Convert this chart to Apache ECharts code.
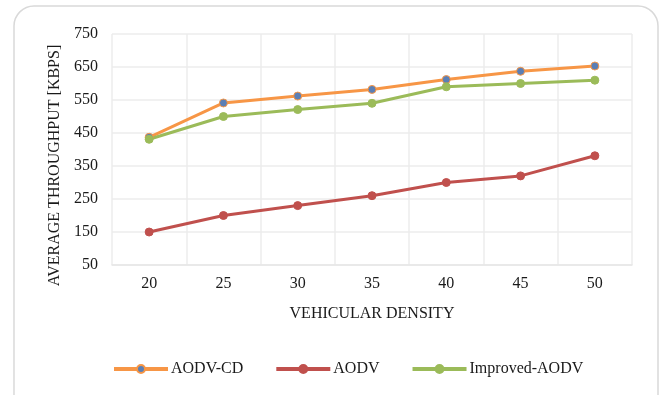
<!DOCTYPE html>
<html>
<head>
<meta charset="utf-8">
<script src="https://cdn.jsdelivr.net/npm/echarts@6/dist/echarts.min.js"></script>
<style>
  html, body { margin: 0; padding: 0; background: #fff; }
  #chart { width: 671px; height: 395px; }
</style>
</head>
<body>
<div id="chart"></div>
<script>
// 数据
var density = ["20", "25", "30", "35", "40", "45", "50"];
var aodvCd = [437, 541, 562, 582, 612, 637, 653];
var aodv = [150, 200, 230, 260, 300, 320, 381];
var improvedAodv = [431, 500, 521, 540, 590, 600, 610];

var font = "Liberation Serif";
var textColor = "#1a1a1a";

var myChart = echarts.init(document.getElementById("chart"));

function lineSeries(name, data, lineColor, markColor) {
  return {
    name: name,
    type: "line",
    data: data,
    symbol: "circle",
    symbolSize: 8,
    lineStyle: { color: lineColor, width: 3 },
    itemStyle: { color: markColor, borderColor: lineColor, borderWidth: 1 },
  };
}

myChart.setOption({
  animation: false,
  textStyle: { fontFamily: font, color: textColor },
  graphic: [
    {
      type: "rect",
      shape: { x: 14, y: 6, width: 644, height: 420, r: 20 },
      style: { fill: "none", stroke: "#d9d9d9", lineWidth: 1.5 },
      z: -1,
    },
  ],
  grid: { left: 112, right: 39, top: 34, bottom: 130 },
  legend: {
    top: 356,
    left: 107,
    itemWidth: 54,
    itemHeight: 10,
    itemGap: 31,
    lineStyle: { width: 4 },
    textStyle: { fontFamily: font, fontSize: 16, color: textColor, padding: [0, 0, 0, -2] },
    data: ["AODV-CD", "AODV", "Improved-AODV"],
  },
  xAxis: {
    type: "category",
    data: density,
    boundaryGap: true,
    name: "VEHICULAR DENSITY",
    nameLocation: "middle",
    nameGap: 41,
    nameTextStyle: { fontFamily: font, fontSize: 16, color: textColor },
    axisLine: { lineStyle: { color: "#e6e6e6", width: 1.5 } },
    axisTick: { show: false },
    axisLabel: { fontFamily: font, fontSize: 16, color: textColor, margin: 11 },
    splitLine: { show: true, lineStyle: { color: "#ececec", width: 1.5 } },
  },
  yAxis: {
    type: "value",
    min: 50,
    max: 750,
    interval: 100,
    name: "AVERAGE THROUGHPUT [KBPS]",
    nameLocation: "middle",
    nameGap: 42,
    nameTextStyle: { fontFamily: font, fontSize: 16, color: textColor, padding: [0, 32, 0, 0] },
    axisLine: { show: false },
    axisTick: { show: false },
    axisLabel: { fontFamily: font, fontSize: 16, color: textColor, margin: 14 },
    splitLine: { lineStyle: { color: "#ececec", width: 1.5 } },
  },
  series: [
    lineSeries("AODV-CD", aodvCd, "#F79646", "#5B7FB5"),
    lineSeries("AODV", aodv, "#C0504D", "#C0504D"),
    lineSeries("Improved-AODV", improvedAodv, "#9BBB59", "#9BBB59"),
  ],
});
</script>
</body>
</html>
